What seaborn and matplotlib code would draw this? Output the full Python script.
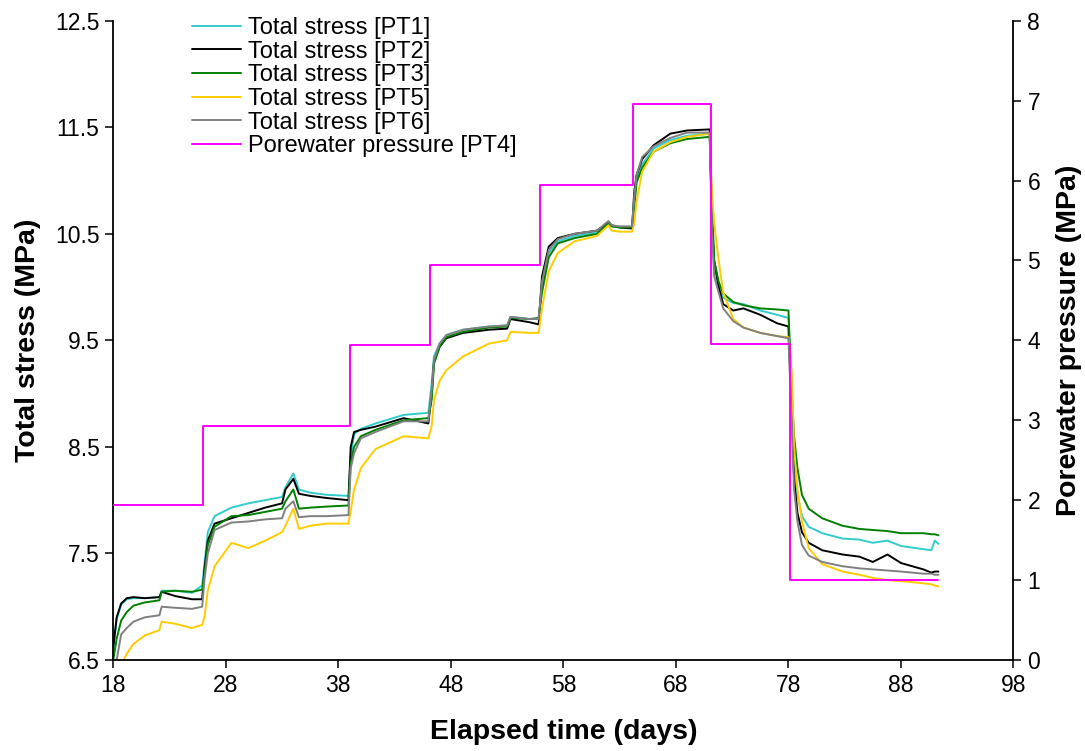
import numpy as np
import pandas as pd
import matplotlib
matplotlib.use("Agg")
import matplotlib.pyplot as plt
import seaborn as sns

# ---------------- data ----------------
days = [18.0, 18.3, 18.7, 19.2, 19.8, 20.8, 22.1, 22.3, 23.5, 25.0, 25.9,
        26.1, 26.4, 27.0, 28.5, 30.0, 31.5, 33.0, 33.3, 34.0, 34.5, 35.5, 37.0, 38.9,
        39.1, 39.4, 40.0, 41.3, 43.8, 46.0,
        46.3, 46.5, 47.0, 47.6, 49.1, 51.4, 53.0, 53.3, 55.0, 55.8,
        56.1, 56.7, 57.5, 59.0, 61.0, 62.0, 62.3, 63.0, 64.1,
        64.3, 64.5, 65.0, 66.0, 67.5, 69.0, 71.0,
        71.2, 71.4, 71.8, 72.2, 73.1, 74.0, 75.5, 77.0, 78.0,
        78.3, 78.5, 78.8, 79.2, 79.8, 81.0, 82.8, 84.3, 85.5, 86.8, 88.0, 90.0, 90.7, 91.0, 91.33]

pt1 = [6.60, 6.88, 7.02, 7.07, 7.08, 7.08, 7.09, 7.15, 7.15, 7.13, 7.20,
       7.40, 7.70, 7.85, 7.93, 7.97, 8.00, 8.03, 8.12, 8.25, 8.10, 8.07, 8.05, 8.04,
       8.40, 8.62, 8.67, 8.72, 8.80, 8.82,
       9.10, 9.35, 9.47, 9.55, 9.60, 9.63, 9.64, 9.72, 9.70, 9.70,
       10.00, 10.32, 10.43, 10.48, 10.51, 10.60, 10.57, 10.56, 10.56,
       10.80, 11.00, 11.15, 11.30, 11.38, 11.42, 11.44,
       10.70, 10.20, 10.00, 9.90, 9.85, 9.84, 9.78, 9.74, 9.71,
       8.90, 8.40, 8.05, 7.85, 7.75, 7.69, 7.64, 7.63, 7.60, 7.62, 7.57, 7.54, 7.53, 7.62, 7.59]

pt2 = [6.62, 6.90, 7.03, 7.08, 7.09, 7.08, 7.09, 7.14, 7.10, 7.07, 7.07,
       7.35, 7.62, 7.78, 7.83, 7.88, 7.93, 7.97, 8.10, 8.20, 8.06, 8.04, 8.02, 8.00,
       8.50, 8.64, 8.66, 8.69, 8.77, 8.72,
       9.00, 9.30, 9.44, 9.52, 9.57, 9.60, 9.61, 9.70, 9.67, 9.65,
       10.10, 10.38, 10.46, 10.50, 10.53, 10.61, 10.58, 10.56, 10.55,
       10.90, 11.05, 11.20, 11.33, 11.44, 11.47, 11.48,
       10.60, 10.25, 10.00, 9.84, 9.78, 9.80, 9.74, 9.66, 9.63,
       8.80, 8.20, 7.88, 7.70, 7.60, 7.53, 7.49, 7.47, 7.42, 7.49, 7.41, 7.35, 7.32, 7.33, 7.33]

pt3 = [6.50, 6.70, 6.87, 6.95, 7.01, 7.04, 7.06, 7.14, 7.15, 7.14, 7.16,
       7.30, 7.58, 7.75, 7.85, 7.86, 7.89, 7.92, 7.99, 8.10, 7.92, 7.93, 7.94, 7.95,
       8.35, 8.50, 8.60, 8.66, 8.75, 8.77,
       8.95, 9.28, 9.44, 9.53, 9.58, 9.62, 9.63, 9.71, 9.70, 9.71,
       9.95, 10.28, 10.41, 10.46, 10.50, 10.60, 10.57, 10.56, 10.56,
       10.75, 10.98, 11.12, 11.27, 11.35, 11.39, 11.41,
       10.80, 10.25, 10.05, 9.94, 9.86, 9.83, 9.80, 9.79, 9.78,
       9.00, 8.60, 8.30, 8.05, 7.92, 7.83, 7.76, 7.73, 7.72, 7.71, 7.69, 7.69, 7.68, 7.68, 7.67]

pt5 = [6.20, 6.30, 6.45, 6.56, 6.65, 6.73, 6.78, 6.86, 6.84, 6.80, 6.83,
       6.90, 7.15, 7.38, 7.60, 7.55, 7.62, 7.70, 7.76, 7.92, 7.73, 7.76, 7.78, 7.78,
       7.90, 8.10, 8.30, 8.48, 8.60, 8.58,
       8.70, 8.94, 9.12, 9.22, 9.35, 9.47, 9.50, 9.58, 9.57, 9.57,
       9.80, 10.15, 10.32, 10.43, 10.48, 10.58, 10.53, 10.52, 10.52,
       10.60, 10.80, 11.08, 11.27, 11.36, 11.41, 11.44,
       10.90, 10.60, 10.25, 9.95, 9.70, 9.62, 9.57, 9.54, 9.53,
       9.20, 8.50, 8.10, 7.80, 7.55, 7.40, 7.33, 7.30, 7.27, 7.25, 7.24, 7.22, 7.21, 7.20, 7.19]

pt6 = [6.35, 6.50, 6.74, 6.80, 6.86, 6.90, 6.92, 7.00, 6.99, 6.98, 7.00,
       7.25, 7.50, 7.72, 7.79, 7.80, 7.82, 7.83, 7.92, 7.99, 7.84, 7.85, 7.85, 7.86,
       8.30, 8.44, 8.58, 8.64, 8.74, 8.74,
       9.05, 9.32, 9.47, 9.55, 9.60, 9.63, 9.64, 9.72, 9.70, 9.70,
       10.05, 10.35, 10.45, 10.50, 10.53, 10.62, 10.58, 10.57, 10.57,
       10.85, 11.05, 11.22, 11.32, 11.40, 11.45, 11.45,
       10.50, 10.10, 9.95, 9.80, 9.68, 9.62, 9.57, 9.54, 9.52,
       8.70, 8.10, 7.80, 7.58, 7.48, 7.42, 7.38, 7.36, 7.35, 7.34, 7.33, 7.31, 7.31, 7.30, 7.30]

pw_days = [18.0, 26.0, 39.0, 46.15, 55.93, 64.2, 71.13, 78.15, 91.33]
pw_levels = [1.94, 2.93, 3.94, 4.94, 5.95, 6.96, 3.95, 1.00, 1.00]

series_names = ["Total stress [PT1]", "Total stress [PT2]", "Total stress [PT3]",
                "Total stress [PT5]", "Total stress [PT6]"]
pw_name = "Porewater pressure [PT4]"
colors = ["#33CCCC", "#000000", "#008000", "#FFCC00", "#808080"]
pw_color = "#FF00FF"

x_ticks = [18, 28, 38, 48, 58, 68, 78, 88, 98]
y_ticks = [6.5, 7.5, 8.5, 9.5, 10.5, 11.5, 12.5]
y2_ticks = [0, 1, 2, 3, 4, 5, 6, 7, 8]

# ---------------- plotting ----------------
sns.set_theme(style="ticks")
plt.rcParams["font.family"] = ["Liberation Sans", "DejaVu Sans"]
plt.rcParams["text.color"] = "black"
plt.rcParams["axes.labelcolor"] = "black"

stress = pd.DataFrame({
    "day": days * 5,
    "value": pt1 + pt2 + pt3 + pt5 + pt6,
    "sensor": sum([[n] * len(days) for n in series_names], []),
})
pw = pd.DataFrame({"day": pw_days, "value": pw_levels})

fig = plt.figure(figsize=(10.85, 7.51), dpi=100)
ax = fig.add_axes([0.1044, 0.1212, 0.8297, 0.8512])
ax2 = ax.twinx()

sns.lineplot(data=stress, x="day", y="value", hue="sensor", hue_order=series_names,
             palette=colors, estimator=None, sort=False, linewidth=1.4,
             legend=False, ax=ax)
sns.lineplot(data=pw, x="day", y="value", color=pw_color, estimator=None,
             drawstyle="steps-post", linewidth=1.4, legend=False, ax=ax2)

ax.set_xlim(18, 98)
ax.set_ylim(6.5, 12.5)
ax2.set_ylim(0, 8)
ax.set_xticks(x_ticks)
ax.set_xticklabels([str(t) for t in x_ticks])
ax.set_yticks(y_ticks)
ax.set_yticklabels([f"{t:.1f}" for t in y_ticks])
ax2.set_yticks(y2_ticks)
ax2.set_yticklabels([str(t) for t in y2_ticks])

for a in (ax, ax2):
    a.spines["top"].set_visible(False)
    for s in a.spines.values():
        s.set_linewidth(1.3)
        s.set_color("black")
    a.tick_params(axis="both", direction="out", length=6, width=1.1,
                  labelsize=16.5, colors="black", pad=4)
ax.spines["right"].set_visible(False)
ax2.spines["left"].set_visible(False)
ax2.spines["bottom"].set_visible(False)

ax.set_xlabel("Elapsed time (days)", fontsize=20.5, fontweight="bold")
ax.set_ylabel("Total stress (MPa)", fontsize=20.5, fontweight="bold")
ax2.set_ylabel("Porewater pressure (MPa)", fontsize=20.5, fontweight="bold")
ax.xaxis.set_label_coords(0.5, -0.092)
ax.yaxis.set_label_coords(-0.080, 0.5)
ax2.yaxis.set_label_coords(1.047, 0.5)

handles = list(ax.get_lines()) + list(ax2.get_lines())
labels = series_names + [pw_name]
leg = ax2.legend(handles, labels, loc="upper left", bbox_to_anchor=(0.087, 1.006),
                 frameon=False, fontsize=17, handlelength=2.1, handletextpad=0.3,
                 labelspacing=0.07, borderpad=0, borderaxespad=0)

fig.savefig("out.png", dpi=100)
